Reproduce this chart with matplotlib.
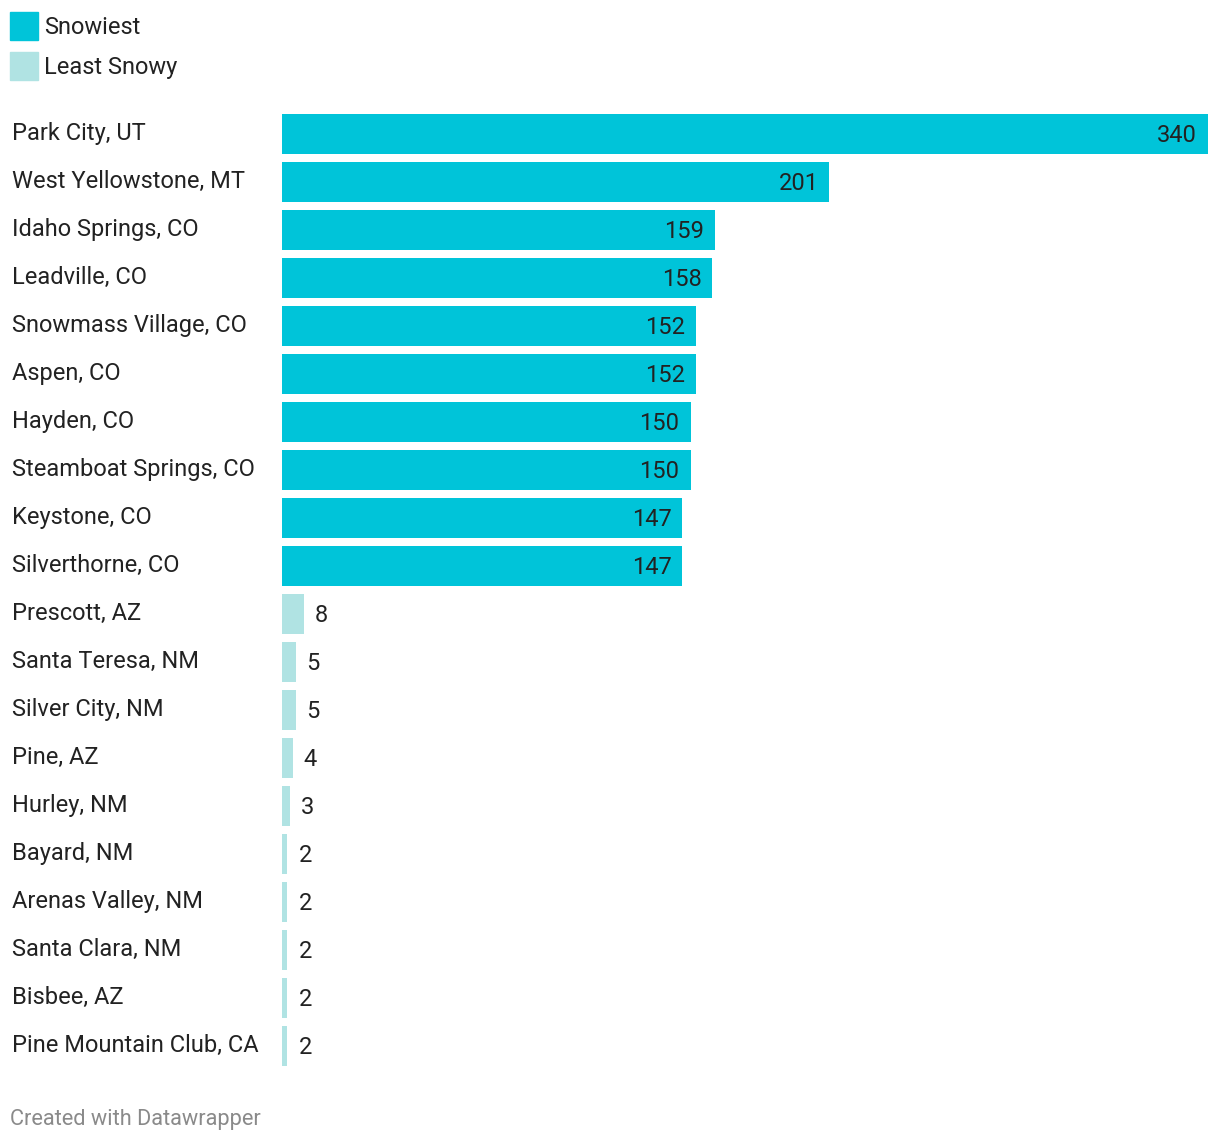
import matplotlib.pyplot as plt
from matplotlib.patches import Rectangle
from matplotlib.transforms import blended_transform_factory

plt.rcParams['font.family'] = ['Roboto', 'DejaVu Sans']

# datos
ciudades = ["Park City, UT", "West Yellowstone, MT", "Idaho Springs, CO", "Leadville, CO",
            "Snowmass Village, CO", "Aspen, CO", "Hayden, CO", "Steamboat Springs, CO",
            "Keystone, CO", "Silverthorne, CO", "Prescott, AZ", "Santa Teresa, NM",
            "Silver City, NM", "Pine, AZ", "Hurley, NM", "Bayard, NM", "Arenas Valley, NM",
            "Santa Clara, NM", "Bisbee, AZ", "Pine Mountain Club, CA"]
nieve = [340, 201, 159, 158, 152, 152, 150, 150, 147, 147,
         8, 5, 5, 4, 3, 2, 2, 2, 2, 2]
grupo = ["Snowiest"] * 10 + ["Least Snowy"] * 10
colores = {"Snowiest": "#00c4d9", "Least Snowy": "#b0e3e3"}

W, H = 1220, 1142
fig = plt.figure(figsize=(W / 100, H / 100), dpi=100)

# ejes de las barras
x0, x1 = 282, 1208
y_top, y_bot = 110, 1070
ax = fig.add_axes([x0 / W, 1 - y_bot / H, (x1 - x0) / W, (y_bot - y_top) / H])
ax.set_xlim(0, 340)
ax.set_ylim(len(ciudades) - 0.5, -0.5)
ax.axis("off")

pos = list(range(len(ciudades)))
ax.barh(pos, nieve, height=40 / 48, color=[colores[g] for g in grupo])

tr = blended_transform_factory(fig.transFigure, ax.transData)
px = 340 / (x1 - x0)  # valor por pixel
fila = 1 / 48          # una fila = 48 px
fs = 17
for i, (c, v) in enumerate(zip(ciudades, nieve)):
    ax.text(12 / W, i - 3 * fila, c, transform=tr, fontsize=fs, color="#222222",
            va="center_baseline", ha="left")
    if v > 50:
        ax.text(v - 11 * px, i - 1 * fila, str(v), fontsize=fs, color="#222222",
                va="center_baseline", ha="right")
    else:
        ax.text(v + 11 * px, i - 1 * fila, str(v), fontsize=fs, color="#222222",
                va="center_baseline", ha="left")

# leyenda manual
for nombre, yy in [("Snowiest", 12), ("Least Snowy", 52)]:
    fig.patches.append(Rectangle((10 / W, 1 - (yy + 28) / H), 28 / W, 28 / H,
                                 transform=fig.transFigure, color=colores[nombre]))
    fig.text(44 / W, 1 - (yy + 13) / H, nombre, fontsize=fs, color="#222222",
             va="center_baseline")

fig.text(10 / W, 1 - 1117 / H, "Created with Datawrapper", fontsize=15.7, color="#8a8a8a",
         va="center_baseline")

plt.savefig("out.png", dpi=100)
